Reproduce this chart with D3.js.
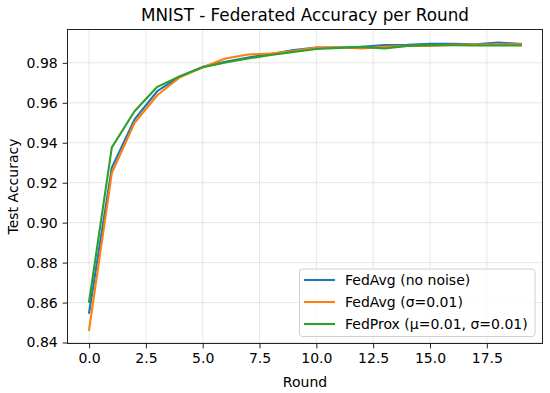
<!DOCTYPE html>
<html>
<head>
<meta charset="utf-8">
<script src="https://cdn.jsdelivr.net/npm/d3@7"></script>
<style>
  html, body { margin: 0; padding: 0; background: #fff; }
  svg { display: block; }
  text { font-family: "DejaVu Sans", sans-serif; fill: #000; }
</style>
</head>
<body>
<svg id="chart" width="550" height="393"></svg>
<script>
const rounds = d3.range(0, 20);
const fedAvgNoNoise = [0.8549, 0.9275, 0.9517, 0.9658, 0.9732, 0.9780, 0.9805, 0.9827, 0.9844, 0.9864,
                       0.9877, 0.9877, 0.9880, 0.9889, 0.9890, 0.9895, 0.9895, 0.9893, 0.9902, 0.9895];
const fedAvgNoise   = [0.8463, 0.9248, 0.9500, 0.9638, 0.9728, 0.9778, 0.9822, 0.9842, 0.9847, 0.9859,
                       0.9877, 0.9877, 0.9872, 0.9880, 0.9885, 0.9885, 0.9890, 0.9892, 0.9892, 0.9893];
const fedProx       = [0.8604, 0.9377, 0.9558, 0.9680, 0.9733, 0.9778, 0.9802, 0.9822, 0.9839, 0.9854,
                       0.9869, 0.9875, 0.9880, 0.9872, 0.9885, 0.9889, 0.9888, 0.9887, 0.9887, 0.9887];
const seriesNames = ["FedAvg (no noise)", "FedAvg (σ=0.01)", "FedProx (μ=0.01, σ=0.01)"];
const seriesColors = ["#1f77b4", "#ff7f0e", "#2ca02c"];
const xTicks = [0, 2.5, 5, 7.5, 10, 12.5, 15, 17.5];
const yTicks = [0.84, 0.86, 0.88, 0.90, 0.92, 0.94, 0.96, 0.98];

const series = [fedAvgNoNoise, fedAvgNoise, fedProx];

const svg = d3.select("#chart");
const L = 67.5, R = 542.5, T = 29.5, B = 343.5;
const FS = 14, TFS = 16.8;

const x = d3.scaleLinear().domain([-0.95, 19.95]).range([L, R]);
const y = d3.scaleLinear().domain([0.8395, 0.9967]).range([B, T]);

// grid
const grid = svg.append("g");
grid.selectAll("line.vx").data(xTicks).enter().append("line")
  .attr("x1", d => x(d)).attr("x2", d => x(d)).attr("y1", T).attr("y2", B)
  .attr("stroke", "#b0b0b0").attr("stroke-opacity", 0.3).attr("stroke-width", 1);
grid.selectAll("line.hy").data(yTicks).enter().append("line")
  .attr("x1", L).attr("x2", R).attr("y1", d => y(d)).attr("y2", d => y(d))
  .attr("stroke", "#b0b0b0").attr("stroke-opacity", 0.3).attr("stroke-width", 1);

// lines
const line = d3.line().x((d, i) => x(rounds[i])).y(d => y(d));
series.forEach((s, k) => {
  svg.append("path").datum(s).attr("d", line)
    .attr("fill", "none").attr("stroke", seriesColors[k])
    .attr("stroke-width", 2.1).attr("stroke-linejoin", "round").attr("stroke-linecap", "square");
});

// axes
const xAxis = d3.axisBottom(x).tickValues(xTicks).tickFormat(d3.format(".1f")).tickSize(4.9).tickPadding(4.9);
const yAxis = d3.axisLeft(y).tickValues(yTicks).tickFormat(d3.format(".2f")).tickSize(4.9).tickPadding(4.9);
const gx = svg.append("g").attr("transform", `translate(0,${B})`).call(xAxis);
const gy = svg.append("g").attr("transform", `translate(${L},0)`).call(yAxis);
[gx, gy].forEach(g => {
  g.select(".domain").remove();
  g.selectAll(".tick line").attr("stroke", "#222").attr("stroke-width", 1);
  g.selectAll(".tick text").attr("font-size", FS + "px").attr("fill", "#222")
    .attr("font-family", "DejaVu Sans, sans-serif");
});

// frame
svg.append("rect").attr("x", L).attr("y", T).attr("width", R - L).attr("height", B - T)
  .attr("fill", "none").attr("stroke", "#222").attr("stroke-width", 1);

// title & labels
svg.append("text").attr("x", (L + R) / 2).attr("y", 21).attr("text-anchor", "middle")
  .attr("font-size", TFS + "px").attr("fill", "#111").text("MNIST - Federated Accuracy per Round");
svg.append("text").attr("x", (L + R) / 2).attr("y", 387).attr("text-anchor", "middle")
  .attr("font-size", FS + "px").attr("fill", "#222").text("Round");
svg.append("text").attr("transform", `translate(17.5,${(T + B) / 2}) rotate(-90)`)
  .attr("text-anchor", "middle").attr("font-size", FS + "px").attr("fill", "#222").text("Test Accuracy");

// legend
const lg = svg.append("g");
lg.append("rect").attr("x", 299.5).attr("y", 269).attr("width", 235.5).attr("height", 67.5)
  .attr("rx", 3).attr("fill", "#fff").attr("fill-opacity", 0.8)
  .attr("stroke", "#d0d0d0").attr("stroke-width", 1);
const legY = [280, 302, 324];
seriesNames.forEach((n, k) => {
  lg.append("line").attr("x1", 304).attr("x2", 335).attr("y1", legY[k]).attr("y2", legY[k])
    .attr("stroke", seriesColors[k]).attr("stroke-width", 2.1);
  lg.append("text").attr("x", 345).attr("y", legY[k] + 5).attr("font-size", FS + "px")
    .attr("fill", "#222").text(n);
});
</script>
</body>
</html>
